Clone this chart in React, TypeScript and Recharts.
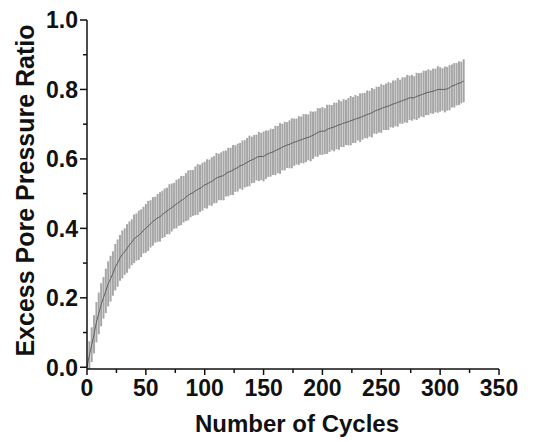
import { ComposedChart, Line, ErrorBar, XAxis, YAxis, Label } from "recharts";

// cycles 0..320, every second cycle
const cycles: number[] = [];
for (let c = 0; c <= 320; c += 2) cycles.push(c);

const meanRatio = [
  0.0, 0.035, 0.065, 0.095, 0.13, 0.155, 0.18, 0.2, 0.22, 0.24,
  0.255, 0.27, 0.288, 0.3, 0.315, 0.325, 0.333, 0.342, 0.352, 0.36,
  0.37, 0.375, 0.38, 0.386, 0.395, 0.4, 0.407, 0.413, 0.42, 0.425,
  0.43, 0.433, 0.44, 0.445, 0.45, 0.455, 0.46, 0.465, 0.47, 0.475,
  0.48, 0.484, 0.49, 0.495, 0.5, 0.502, 0.508, 0.512, 0.515, 0.52,
  0.525, 0.528, 0.532, 0.535, 0.54, 0.545, 0.548, 0.55, 0.552, 0.558,
  0.562, 0.564, 0.568, 0.572, 0.575, 0.58, 0.582, 0.586, 0.59, 0.594,
  0.597, 0.6, 0.604, 0.607, 0.607, 0.607, 0.612, 0.615, 0.618, 0.62,
  0.624, 0.627, 0.63, 0.634, 0.637, 0.64, 0.642, 0.645, 0.648, 0.65,
  0.653, 0.655, 0.658, 0.66, 0.662, 0.665, 0.668, 0.672, 0.676, 0.679,
  0.68, 0.68, 0.685, 0.688, 0.69, 0.692, 0.695, 0.698, 0.7, 0.703,
  0.705, 0.707, 0.71, 0.712, 0.715, 0.717, 0.719, 0.722, 0.725, 0.728,
  0.73, 0.733, 0.737, 0.74, 0.742, 0.745, 0.748, 0.75, 0.752, 0.755,
  0.758, 0.76, 0.763, 0.765, 0.768, 0.77, 0.773, 0.776, 0.776, 0.776,
  0.78, 0.782, 0.785, 0.787, 0.79, 0.792, 0.793, 0.795, 0.797, 0.8,
  0.8, 0.8, 0.8, 0.802, 0.805, 0.81, 0.812, 0.815, 0.818, 0.82,
  0.825,
];

const errRatio = [
  0.0, 0.04, 0.05, 0.055, 0.058, 0.06, 0.062, 0.06, 0.064, 0.065,
  0.066, 0.064, 0.067, 0.068, 0.066, 0.069, 0.067, 0.07, 0.068, 0.066,
  0.07, 0.068, 0.071, 0.069, 0.067, 0.07, 0.072, 0.068, 0.07, 0.066,
  0.069, 0.071, 0.068, 0.07, 0.067, 0.072, 0.069, 0.066, 0.07, 0.068,
  0.071, 0.067, 0.069, 0.072, 0.068, 0.066, 0.07, 0.073, 0.068, 0.069,
  0.067, 0.071, 0.066, 0.07, 0.068, 0.072, 0.067, 0.069, 0.071, 0.066,
  0.07, 0.068, 0.072, 0.067, 0.069, 0.066, 0.071, 0.068, 0.07, 0.073,
  0.067, 0.069, 0.066, 0.071, 0.068, 0.072, 0.07, 0.067, 0.069, 0.066,
  0.071, 0.068, 0.073, 0.067, 0.07, 0.066, 0.069, 0.072, 0.068, 0.066,
  0.07, 0.067, 0.071, 0.069, 0.066, 0.072, 0.068, 0.065, 0.07, 0.067,
  0.069, 0.066, 0.071, 0.068, 0.065, 0.07, 0.067, 0.072, 0.066, 0.069,
  0.065, 0.068, 0.071, 0.066, 0.069, 0.064, 0.07, 0.067, 0.065, 0.069,
  0.066, 0.071, 0.064, 0.068, 0.066, 0.07, 0.065, 0.067, 0.069, 0.064,
  0.068, 0.066, 0.07, 0.063, 0.067, 0.065, 0.069, 0.064, 0.066, 0.062,
  0.068, 0.065, 0.063, 0.067, 0.064, 0.066, 0.062, 0.065, 0.063, 0.067,
  0.064, 0.061, 0.066, 0.063, 0.065, 0.062, 0.064, 0.061, 0.063, 0.06,
  0.062,
];

const xTicks = [0, 25, 50, 75, 100, 125, 150, 175, 200, 225, 250, 275, 300, 325, 350];
const yTicks = [0, 0.1, 0.2, 0.3, 0.4, 0.5, 0.6, 0.7, 0.8, 0.9, 1.0];
const topTicks = [40, 77, 113.5, 150, 187, 223.5, 260, 297, 333.5];
const topMajor = [77, 150, 223.5, 297];

const data = cycles.map((c, i) => ({
  cycle: c,
  mean: meanRatio[i],
  err: errRatio[i],
}));

const FONT = "'Liberation Sans', Arial, sans-serif";
const INK = "#111";

const BottomTick = ({ x, y, payload }: any) => {
  const major = payload.value % 50 === 0;
  return (
    <g>
      <line x1={x} x2={x} y1={y} y2={y + (major ? 6 : 4)} stroke={INK} strokeWidth={1.5} />
      {major && (
        <text x={x} y={y + 27} textAnchor="middle" fontFamily={FONT} fontWeight="bold" fontSize={23} fill={INK}>
          {payload.value}
        </text>
      )}
    </g>
  );
};

const LeftTick = ({ x, y, payload }: any) => {
  const major = Math.round(payload.value * 10) % 2 === 0;
  return (
    <g>
      <line x1={x - (major ? 7 : 4)} x2={x} y1={y} y2={y} stroke={INK} strokeWidth={1.5} />
      {major && (
        <text x={x - 9} y={y} dy="0.36em" textAnchor="end" fontFamily={FONT} fontWeight="bold" fontSize={23} fill={INK}>
          {payload.value.toFixed(1)}
        </text>
      )}
    </g>
  );
};

const TopTick = ({ x, y, payload }: any) => {
  const major = topMajor.includes(payload.value);
  return <line x1={x} x2={x} y1={y} y2={y + (major ? 6 : 4)} stroke={INK} strokeWidth={1.5} />;
};

const XTitle = ({ viewBox }: any) => (
  <text
    x={viewBox.x + viewBox.width / 2 + 4}
    y={viewBox.y + 63}
    textAnchor="middle"
    fontFamily={FONT}
    fontWeight="bold"
    fontSize={24}
    fill={INK}
  >
    Number of Cycles
  </text>
);

const YTitle = ({ viewBox }: any) => {
  const cx = 17;
  const cy = viewBox.y + viewBox.height / 2 - 4;
  return (
    <text
      x={cx}
      y={cy}
      transform={`rotate(-90, ${cx}, ${cy})`}
      textAnchor="middle"
      dominantBaseline="central"
      fontFamily={FONT}
      fontWeight="bold"
      fontSize={25}
      fill={INK}
    >
      Excess Pore Pressure Ratio
    </text>
  );
};

export default function App() {
  return (
    <div style={{ width: 541, height: 434, background: "#fff" }}>
      <ComposedChart
        width={541}
        height={434}
        data={data}
        margin={{ top: 12, right: 50, bottom: 0, left: 0 }}
      >
        <XAxis
          dataKey="cycle"
          type="number"
          domain={[0, 350]}
          ticks={xTicks}
          interval={0}
          height={73}
          tickSize={0}
          tickMargin={0}
          tickLine={false}
          tick={<BottomTick />}
          axisLine={{ stroke: INK, strokeWidth: 1.5 }}
        >
          <Label content={<XTitle />} />
        </XAxis>
        <XAxis
          xAxisId="top"
          orientation="top"
          type="number"
          domain={[0, 350]}
          ticks={topTicks}
          interval={0}
          height={0}
          tickSize={0}
          tickMargin={0}
          tickLine={false}
          tick={<TopTick />}
          axisLine={{ stroke: INK, strokeWidth: 1.5 }}
        />
        <YAxis
          type="number"
          domain={[0, 1]}
          ticks={yTicks}
          interval={0}
          width={79}
          tickSize={0}
          tickMargin={0}
          tickLine={false}
          tick={<LeftTick />}
          axisLine={{ stroke: INK, strokeWidth: 1.5 }}
        >
          <Label content={<YTitle />} />
        </YAxis>
        <YAxis
          yAxisId="right"
          orientation="right"
          type="number"
          domain={[0, 1]}
          width={0}
          tick={false}
          tickLine={false}
          axisLine={{ stroke: INK, strokeWidth: 1.5 }}
        />
        <Line
          dataKey="mean"
          type="linear"
          stroke="none"
          dot={false}
          activeDot={false}
          isAnimationActive={false}
        >
          <ErrorBar dataKey="err" width={0} stroke="#a6a6a6" strokeWidth={2} direction="y" isAnimationActive={false} />
        </Line>
        <Line
          dataKey="mean"
          type="linear"
          stroke="#555"
          strokeWidth={0.9}
          dot={false}
          activeDot={false}
          isAnimationActive={false}
        />
      </ComposedChart>
    </div>
  );
}
